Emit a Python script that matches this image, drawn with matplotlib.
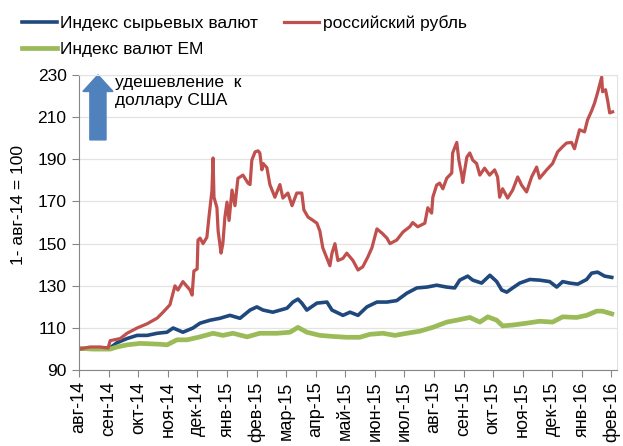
import numpy as np
import matplotlib
matplotlib.use("Agg")
import matplotlib.pyplot as plt
from matplotlib.patches import FancyArrow

plt.rcParams['font.family'] = ['Liberation Sans', 'DejaVu Sans']

# месяцы от 1 авг 2014
months = ['авг-14', 'сен-14', 'окт-14', 'ноя-14', 'дек-14', 'янв-15', 'фев-15',
          'мар-15', 'апр-15', 'май-15', 'июн-15', 'июл-15', 'авг-15', 'сен-15',
          'окт-15', 'ноя-15', 'дек-15', 'янв-16', 'фев-16']

rub_x = [0.00, 0.37, 0.71, 0.98, 1.05, 1.39, 1.62, 1.96, 2.30, 2.64, 2.84, 3.07,
         3.24, 3.34, 3.51, 3.75, 3.82, 3.88, 3.99, 4.02, 4.09, 4.19, 4.32, 4.39,
         4.49, 4.53, 4.56, 4.66, 4.70, 4.80, 4.86, 4.93, 5.00, 5.07, 5.17, 5.27,
         5.37, 5.54, 5.71, 5.78, 5.84, 5.95, 6.05, 6.11, 6.18, 6.22, 6.35, 6.45,
         6.62, 6.79, 6.89, 7.06, 7.20, 7.36, 7.53, 7.60, 7.74, 7.91, 8.04, 8.14,
         8.24, 8.31, 8.48, 8.55, 8.65, 8.75, 8.92, 9.05, 9.26, 9.43, 9.59, 9.76,
         9.90, 10.07, 10.24, 10.41, 10.51, 10.74, 10.95, 11.18, 11.28, 11.45,
         11.69, 11.79, 11.92, 11.96, 12.09, 12.19, 12.30, 12.43, 12.60, 12.63,
         12.77, 12.84, 12.94, 12.97, 13.11, 13.21, 13.31, 13.44, 13.55, 13.71,
         13.88, 14.05, 14.15, 14.22, 14.32, 14.49, 14.66, 14.83, 14.96, 15.13,
         15.30, 15.47, 15.57, 15.81, 16.01, 16.18, 16.35, 16.48, 16.65, 16.75,
         16.92, 17.09, 17.19, 17.33, 17.43, 17.53, 17.67, 17.70, 17.80, 17.87,
         17.94, 18.04]
rub = [100, 101, 101, 100.5, 104, 105, 107.5, 110, 112, 114.7, 117.5, 121,
       130, 128, 132, 128, 125.6, 137, 138, 151.7, 152.6, 150, 153, 162.6,
       175, 190.6, 172, 167, 156, 145.5, 150, 162.6, 169.7, 161, 175.4, 168,
       181, 182.5, 178.7, 178, 189.6, 193.5, 194, 193, 185, 188, 186, 178,
       172, 178, 171.6, 174, 168, 174, 174, 166, 162.6, 161, 159.7, 156,
       148, 145.5, 139.5, 145.5, 150, 142, 143, 145.5, 142, 137.5, 139, 143.6,
       148, 157, 155, 152.6, 150, 151.7, 155.5, 158, 160, 158,
       159.7, 167, 164.5, 172, 177.8, 178.7, 176, 181, 183.5, 193,
       198, 189.6, 182.5, 179, 191, 193, 189.6, 188, 182.5, 185.8,
       182.5, 185, 181.6, 172, 176, 171.6, 175.4, 181.6, 177.8, 174.5,
       181.6, 186.3, 181, 185, 188, 193.5, 196, 197.7, 198, 195,
       204, 203, 208.6, 213, 216.7, 221.5, 229, 222, 223, 218,
       212, 212.5]

comm_x = [0.00, 1.05, 1.28, 1.62, 1.96, 2.30, 2.64, 2.97, 3.18, 3.51, 3.85, 4.09,
          4.43, 4.76, 5.10, 5.44, 5.78, 6.01, 6.22, 6.55, 7.03, 7.23, 7.40, 7.53,
          7.70, 8.04, 8.38, 8.55, 8.92, 9.16, 9.43, 9.73, 10.07, 10.41, 10.74,
          11.08, 11.42, 11.76, 12.09, 12.43, 12.70, 12.87, 13.14, 13.31, 13.61,
          13.89, 14.12, 14.29, 14.46, 14.66, 14.90, 15.24, 15.57, 15.91, 16.15,
          16.35, 16.59, 16.86, 17.16, 17.33, 17.53, 17.77, 18.01]
comm = [100, 100.6, 103, 105, 106.5, 106.5, 107.5, 108, 110, 108, 110, 112.3,
        113.7, 114.6, 116, 114.6, 118.5, 120, 118.5, 117.5, 119.4, 122.3, 123.7, 121.8,
        118.5, 121.8, 122.3, 118.5, 116, 117.5, 116, 120, 122.3, 122.3, 123,
        126.5, 129, 129.4, 130.3, 129.4, 129, 132.7, 134.6, 132.7, 131.3,
        135, 132, 128, 127, 129, 131.3, 133, 132.7, 132, 129.4,
        132, 131.3, 130.8, 133, 136, 136.5, 134.6, 134]

em_x = [0.00, 0.47, 1.05, 1.28, 1.62, 2.06, 2.74, 2.97, 3.31, 3.65, 4.09, 4.53,
        4.86, 5.20, 5.68, 6.11, 6.69, 7.13, 7.40, 7.70, 8.14, 8.58, 9.05, 9.49,
        9.83, 10.27, 10.68, 11.08, 11.52, 11.96, 12.43, 12.77, 13.21, 13.55,
        13.82, 14.12, 14.32, 14.66, 15.14, 15.57, 16.01, 16.35, 16.82, 17.16,
        17.50, 17.70, 18.01]
em = [100.4, 100, 100, 101, 102, 102.7, 102.3, 102, 104.4, 104.4, 105.8, 107.5,
      106.5, 107.5, 105.8, 107.5, 107.5, 108, 110.3, 108, 106.5, 106, 105.6, 105.6,
      107, 107.5, 106.5, 107.5, 108.5, 110.3, 112.8, 113.7, 115, 112.8,
      115.3, 113.7, 111, 111.4, 112.3, 113.2, 112.8, 115.3, 115, 116,
      118, 118, 116.7]

fig = plt.figure(figsize=(6.23, 4.46), dpi=100)
ax = fig.add_axes([0.127, 0.170, 0.863, 0.662])

l_comm, = ax.plot(comm_x, comm, color='#1F497D', lw=2.6, label='Индекс сырьевых валют')
l_em, = ax.plot(em_x, em, color='#9BBB59', lw=3.4, label='Индекс валют EM')
l_rub, = ax.plot(rub_x, rub, color='#C0504D', lw=2.3, label='российский рубль')

ax.set_xlim(0, 18.18)
ax.set_ylim(90, 230)
ax.set_yticks(np.arange(90, 231, 20))
ax.set_xticks(np.arange(len(months)))
ax.set_xticklabels(months, rotation=90, fontsize=13)
ax.tick_params(axis='y', labelsize=12.5, direction='out', length=5, color='#868686', pad=4)
ax.tick_params(axis='x', direction='out', length=5, color='#868686', pad=3)
ax.grid(axis='y', color='#E3E3E3', lw=0.9)
ax.set_axisbelow(True)
for s in ['left', 'bottom']:
    ax.spines[s].set_color('#868686')
for s in ['top', 'right']:
    ax.spines[s].set_color('#E3E3E3')
ax.set_ylabel('1- авг-14 = 100', fontsize=12.5)
ax.yaxis.set_label_coords(-0.098, 0.56)

arr = FancyArrow(0.035, 0.78, 0, 0.22, width=0.030, head_width=0.056,
                 head_length=0.056, length_includes_head=True,
                 transform=ax.transAxes, color='#4F81BD', clip_on=False)
ax.add_patch(arr)
ax.text(0.067, 1.0, 'удешевление  к\nдоллару США', transform=ax.transAxes,
        fontsize=12.5, va='top', ha='left', linespacing=1.25)

fig.legend([l_comm, l_em, l_rub], [l.get_label() for l in [l_comm, l_em, l_rub]],
           ncol=2, loc='upper left', bbox_to_anchor=(0.012, 1.0), frameon=False,
           fontsize=12.5, handlelength=2.0, handletextpad=0.2,
           columnspacing=1.5, labelspacing=0.65, borderaxespad=0.45)

fig.savefig('out.png', dpi=100)
